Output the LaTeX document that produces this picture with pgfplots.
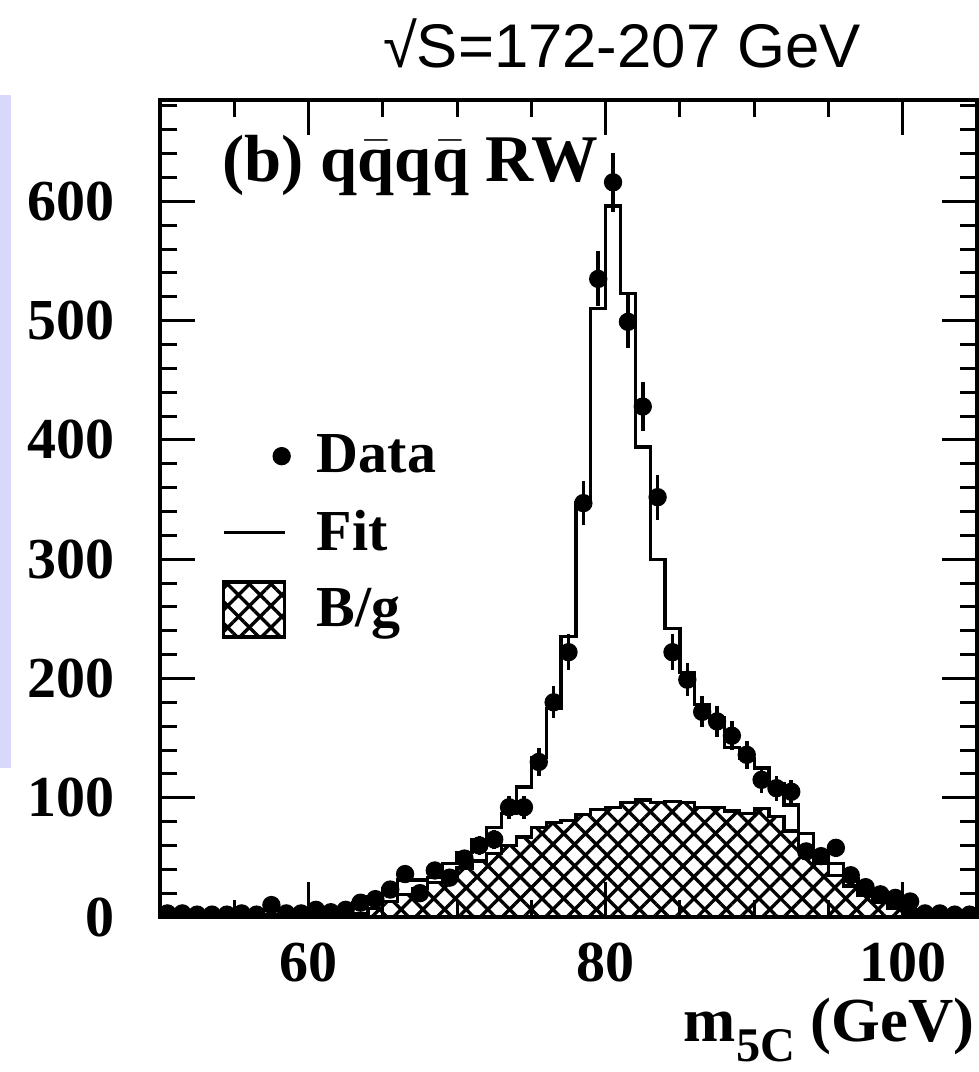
\documentclass[border=0pt]{standalone}
\usepackage{fontspec}
\setmainfont{Liberation Serif}
\newfontfamily\helv{Liberation Sans}
\usepackage{pgfplots}
\pgfplotsset{compat=1.18}
\usepackage{pgfplotstable}
\usetikzlibrary{patterns.meta}
\definecolor{lav}{RGB}{216,216,250}

\pgfplotstableread{
x y
50 1
51 1
52 1
53 1
54 1
55 1
56 1
57 2
58 2
59 2
60 3
61 5
62 8
63 12
64 17
65 24
66 31
67 31
68 33
69 45
70 54
71 65
72 75
73 87
74 109
75 134
76 175
77 235
78 347
79 510
80 596
81 523
82 394
83 300
84 242
85 205
86 178
87 167
88 142
89 133
90 125
91 112
92 94
93 70
94 56
95 45
96 32
97 22
98 15
99 10
100 6
101 3
102 2
103 1
104 1
105 1
}\fitdata

\pgfplotstableread{
x y
50 0
61 0
62 1
63 3
64 7
65 13
66 19
67 24
68 29
69 35
70 41
71 47
72 53
73 60
74 67
75 75
76 79
77 81
78 86
79 90
80 92
81 96
82 98
83 96
84 97
85 96
86 92
87 92
88 89
89 87
90 91
91 84
92 72
93 58
94 45
95 35
96 26
97 18
98 12
99 7
100 3
101 1
102 0
105 0
}\bgdata

\pgfplotstableread{
x y e
50.5 3 1.7
51.5 3 1.7
52.5 2 1.4
53.5 2 1.4
54.5 2 1.4
55.5 3 1.7
56.5 2 1.4
57.5 10 3.2
58.5 3 1.7
59.5 3 1.7
60.5 6 2.4
61.5 4 2.0
62.5 6 2.4
63.5 12 3.5
64.5 15 3.9
65.5 23 4.8
66.5 36 6.0
67.5 20 4.5
68.5 39 6.2
69.5 33 5.7
70.5 49 7.0
71.5 60 7.7
72.5 65 8.1
73.5 92 9.6
74.5 92 9.6
75.5 130 11.4
76.5 180 13.4
77.5 222 14.9
78.5 347 18.6
79.5 535 23.1
80.5 616 24.8
81.5 499 22.3
82.5 428 20.7
83.5 352 18.8
84.5 222 14.9
85.5 199 14.1
86.5 172 13.1
87.5 164 12.8
88.5 152 12.3
89.5 136 11.7
90.5 115 10.7
91.5 108 10.4
92.5 105 10.2
93.5 55 7.4
94.5 51 7.1
95.5 58 7.6
96.5 35 5.9
97.5 25 5.0
98.5 19 4.4
99.5 16 4.0
100.5 13 3.6
101.5 3 1.7
102.5 3 1.7
103.5 2 1.4
104.5 2 1.4
}\datatab

\newcommand\legbox{\pgfpathrectangle{\pgfpoint{0pt}{-11.5pt}}{\pgfpoint{18.3pt}{23pt}}\pgfusepath{}}

\begin{document}
\begin{tikzpicture}
\useasboundingbox (-48pt,-46.5pt) rectangle (245.7pt,275.1pt);
\fill[lav] (-48pt,44.7pt) rectangle (-44.7pt,246.6pt);
\node[anchor=base, inner sep=0pt, font=\helv\fontsize{18.5}{20}\selectfont] at (138.6pt,254.7pt) {√S=172-207 GeV};
\begin{axis}[
  at={(0pt,0pt)}, anchor=south west,
  scale only axis, width=245.1pt, height=245.1pt,
  xmin=50, xmax=105, ymin=0, ymax=685,
  xtick={60,80,100}, minor xtick={50,55,...,105},
  ytick={0,100,...,600}, minor ytick={0,20,...,680},
  tick align=inside, tick pos=both,
  major tick length=10.5pt, minor tick length=5.2pt,
  every tick/.style={black, line width=0.9pt},
  axis line style={line width=1.2pt},
  /pgf/number format/assume math mode=true,
  ticklabel style={font=\bfseries\fontsize{17.4}{20}\selectfont, inner sep=0pt},
  xticklabel style={anchor=north, yshift=-7.5pt},
  yticklabel style={anchor=east, xshift=-13.5pt},
  clip marker paths=true,
  reverse legend,
  legend cell align=left,
  legend style={at={(0.0759,0.611)}, anchor=north west, draw=none, fill=none,
    inner sep=0pt, outer sep=0pt, row sep=0pt,
    font=\bfseries\fontsize{17.4}{20}\selectfont, nodes={inner sep=0pt},
    /tikz/every odd column/.append style={column sep=7.8pt}},
]
\addplot[const plot, draw=black, line width=1pt,
  pattern={Hatch[angle=45,distance=4.6pt,line width=1pt]},
  legend image code/.code={
    \draw[line width=1pt, pattern={Hatch[angle=45,distance=4.6pt,line width=1pt]}] (0pt,-8.25pt) rectangle (18.3pt,8.25pt);
    \legbox}
  ] table[x=x,y=y]{\bgdata} \closedcycle;
\addlegendentry{B/g}
\addplot[const plot, black, line width=1pt,
  legend image code/.code={
    \draw[line width=1pt] (0pt,0pt) -- (18.3pt,0pt);
    \legbox}
  ] table[x=x,y=y]{\fitdata};
\addlegendentry{Fit}
\addplot[only marks, mark=*, mark size=2.55pt, black, mark options={fill=black},
  legend image code/.code={
    \fill[black] (17.4pt,0pt) circle[radius=2.55pt];
    \legbox},
  error bars/.cd, y dir=both, y explicit, error mark=none,
  error bar style={line width=1.1pt},
  ] table[x=x,y=y,y error=e]{\datatab};
\addlegendentry{Data}
\end{axis}
\node[anchor=base west, inner sep=0pt, font=\bfseries\fontsize{20}{22}\selectfont] at (18.6pt,220.5pt) {(b) q$\bar{\mbox{q}}$q$\bar{\mbox{q}}$ RW};
\node[anchor=base east, inner sep=0pt, font=\bfseries\fontsize{18.8}{21}\selectfont] at (244.5pt,-37.3pt) {m\raisebox{-6pt}{\fontsize{14.5}{16}\selectfont 5C} (GeV)};
\end{tikzpicture}
\end{document}
